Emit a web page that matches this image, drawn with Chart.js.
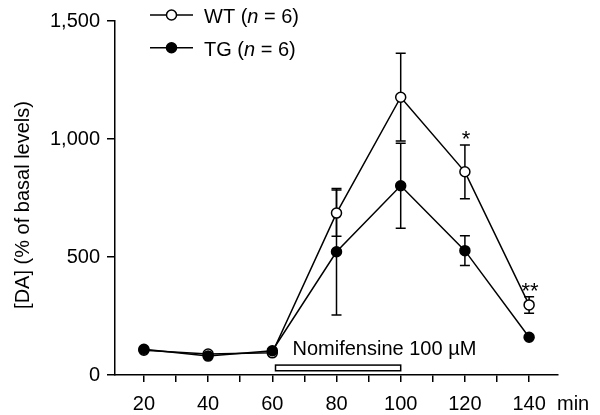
<!DOCTYPE html>
<html>
<head>
<meta charset="utf-8">
<script src="https://cdn.jsdelivr.net/npm/chart.js@4/dist/chart.umd.min.js"></script>
<style>
  html, body { margin: 0; padding: 0; background: #fff; }
  canvas { display: block; }
</style>
</head>
<body>
<canvas id="c" width="600" height="415"></canvas>
<script>
// ---- data ----
const times   = [20, 40, 60, 80, 100, 120, 140];
const wtMean  = [105, 89, 94, 686, 1177, 861, 297];
const wtSem   = [0, 0, 0, 98, 186, 114, 35];
const tgMean  = [109, 80, 103, 522, 802, 527, 160];
const tgSem   = [0, 0, 0, 268, 180, 63, 0];
const wtStars = ['', '', '', '', '', '*', '**'];
const drugWindow = [61, 100];      // minutes of Nomifensine application
const drugBand = [18, 42];         // vertical extent of the bar, in y units
const drugLabel = 'Nomifensine 100 \u00B5M';
const yTicks = [0, 500, 1000, 1500];
const xTicks = [20, 30, 40, 50, 60, 70, 80, 90, 100, 110, 120, 130, 140];
const xLabelled = [20, 40, 60, 80, 100, 120, 140];
const legendItems = [
  { name: 'WT', n: 6, fill: '#ffffff' },
  { name: 'TG', n: 6, fill: '#000000' }
];

const FONT = '"Liberation Sans", Arial, Helvetica, sans-serif';

function pts(mean) { return times.map((t, i) => ({ x: t, y: mean[i] })); }

const overlay = {
  id: 'overlay',
  beforeDatasetsDraw(chart) {
    const { ctx, scales: { x, y } } = chart;
    ctx.save();
    // drug bar
    const x0 = x.getPixelForValue(drugWindow[0]);
    const x1 = x.getPixelForValue(drugWindow[1]);
    const y0 = y.getPixelForValue(drugBand[1]);
    const y1 = y.getPixelForValue(drugBand[0]);
    ctx.fillStyle = '#fff';
    ctx.strokeStyle = '#000';
    ctx.lineWidth = 1.5;
    ctx.fillRect(x0, y0, x1 - x0, y1 - y0);
    ctx.strokeRect(x0, y0, x1 - x0, y1 - y0);
    // error bars
    const series = [[wtMean, wtSem], [tgMean, tgSem]];
    ctx.lineWidth = 1.5;
    series.forEach(([m, s]) => {
      times.forEach((t, i) => {
        if (!s[i]) return;
        const px = x.getPixelForValue(t);
        const top = y.getPixelForValue(m[i] + s[i]);
        const bot = y.getPixelForValue(m[i] - s[i]);
        ctx.beginPath();
        ctx.moveTo(px, top); ctx.lineTo(px, bot);
        ctx.moveTo(px - 5, top); ctx.lineTo(px + 5, top);
        ctx.moveTo(px - 5, bot); ctx.lineTo(px + 5, bot);
        ctx.stroke();
      });
    });
    ctx.restore();
  },
  afterDraw(chart) {
    const { ctx, scales: { x, y } } = chart;
    ctx.save();
    ctx.fillStyle = '#000';
    ctx.font = '20px ' + FONT;
    ctx.textBaseline = 'alphabetic';
    // drug label
    ctx.textAlign = 'left';
    ctx.fillText(drugLabel, x.getPixelForValue(drugWindow[0]) + 17, y.getPixelForValue(drugBand[1]) - 10);
    // significance stars
    ctx.textAlign = 'center';
    ctx.font = '22px ' + FONT;
    times.forEach((t, i) => {
      if (!wtStars[i]) return;
      const capY = y.getPixelForValue(wtMean[i] + wtSem[i]);
      ctx.fillText(wtStars[i], x.getPixelForValue(t) + 1, capY + 1);
    });
    ctx.font = '20px ' + FONT;
    // x unit
    ctx.textAlign = 'left';
    ctx.fillText('min', x.right - 1, 410);
    // y title
    ctx.save();
    ctx.translate(29, 205);
    ctx.rotate(-Math.PI / 2);
    ctx.textAlign = 'center';
    ctx.fillText('[DA] (% of basal levels)', 0, 0);
    ctx.restore();
    // legend
    legendItems.forEach((it, k) => {
      const cy = 15 + k * 32.7;
      ctx.strokeStyle = '#000';
      ctx.lineWidth = 1.5;
      ctx.beginPath();
      ctx.moveTo(150, cy); ctx.lineTo(193, cy); ctx.stroke();
      ctx.beginPath();
      ctx.arc(171.5, cy, 5, 0, Math.PI * 2);
      ctx.fillStyle = it.fill; ctx.fill(); ctx.stroke();
      ctx.fillStyle = '#000';
      ctx.textAlign = 'left';
      let tx = 204;
      const by = cy + 8;
      const parts = [[it.name + ' (', false], ['n', true], [' = ' + it.n + ')', false]];
      parts.forEach(([s, ital]) => {
        ctx.font = (ital ? 'italic ' : '') + '20px ' + FONT;
        ctx.fillText(s, tx, by);
        tx += ctx.measureText(s).width;
      });
      ctx.font = '20px ' + FONT;
    });
    ctx.restore();
  }
};

new Chart(document.getElementById('c'), {
  type: 'line',
  data: {
    datasets: [
      {
        label: 'TG', data: pts(tgMean),
        borderColor: '#000', borderWidth: 1.5,
        pointRadius: 5, pointBorderWidth: 1.5,
        pointBackgroundColor: '#000', pointBorderColor: '#000',
        tension: 0, fill: false, clip: false
      },
      {
        label: 'WT', data: pts(wtMean),
        borderColor: '#000', borderWidth: 1.5,
        pointRadius: 5, pointBorderWidth: 1.5,
        pointBackgroundColor: '#fff', pointBorderColor: '#000',
        tension: 0, fill: false, clip: false
      }
    ]
  },
  options: {
    responsive: false,
    animation: false,
    devicePixelRatio: 1,
    layout: { padding: { top: 21, right: 42, left: 0, bottom: 0 } },
    plugins: { legend: { display: false }, tooltip: { enabled: false } },
    scales: {
      x: {
        type: 'linear', position: 'bottom', min: 11, max: 149,
        border: { color: '#000', width: 1.5 },
        grid: { drawOnChartArea: false, drawTicks: true, tickLength: 7, color: '#000', lineWidth: 1.5 },
        ticks: {
          color: '#000', font: { family: FONT, size: 20 }, padding: 10,
          autoSkip: false, maxRotation: 0,
          callback: v => xLabelled.includes(v) ? String(v) : ''
        },
        afterBuildTicks: s => { s.ticks = xTicks.map(v => ({ value: v })); },
        afterFit: s => { s.height = 40; }
      },
      y: {
        type: 'linear', min: 0, max: 1500,
        border: { color: '#000', width: 1.5 },
        grid: { drawOnChartArea: false, drawTicks: true, tickLength: 8, color: '#000', lineWidth: 1.5 },
        ticks: {
          color: '#000', font: { family: FONT, size: 20 }, padding: 7,
          callback: v => v.toLocaleString('en-US')
        },
        afterBuildTicks: s => { s.ticks = yTicks.map(v => ({ value: v })); },
        afterFit: s => { s.width = 115; }
      }
    }
  },
  plugins: [overlay]
});
</script>
</body>
</html>
